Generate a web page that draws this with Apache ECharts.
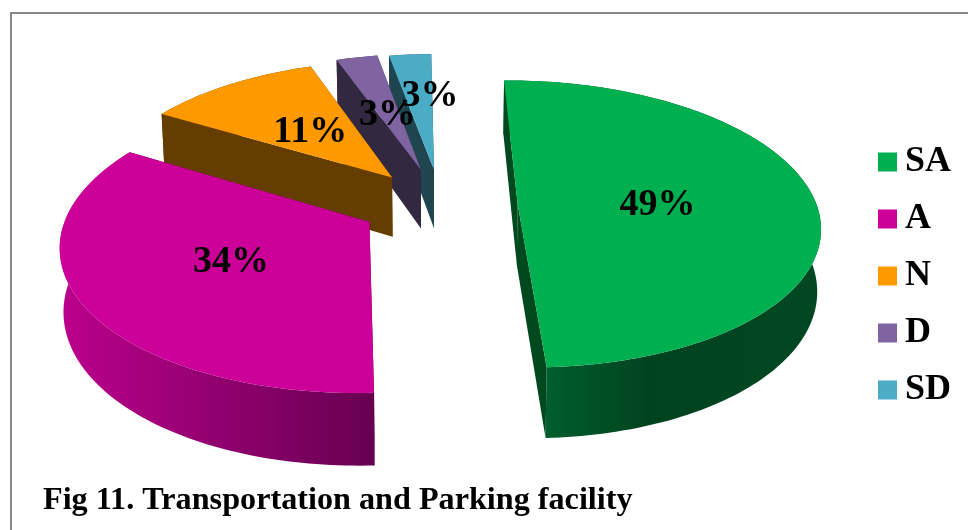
<!DOCTYPE html>
<html><head><meta charset="utf-8">
<style>html,body{margin:0;padding:0;background:#fff}#c{width:968px;height:530px}</style>
<script src="https://cdn.jsdelivr.net/npm/echarts@6/dist/echarts.min.js"></script>
</head><body><div id="c"></div>
<script>
const categories = ['SA', 'A', 'N', 'D', 'SD'];
const values = [49.49, 34.25, 11, 2.6, 2.66];
const titleText = 'Fig 11. Transportation and Parking facility';

const topColors = ['#00B050', '#CC0099', '#FF9900', '#8064A2', '#4BACC6'];
const radialWallColors = ['#00491F', '#660050', '#663D00', '#32283F', '#1E4550'];
const labelFractions = [0.45, 0.5, 0.46, 0.46, 0.6];
const labelNudges = [[6, 3], [0, 1], [-3, 0], [-2, 1], [11, -1]];
const sliceShifts = [[0, 0], [3, -3], [5, 1], [4, 0], [4.5, 1]];
const FONT = '"Liberation Serif","Times New Roman",serif';

// projection of the tilted pie plane
const X0 = 437, Y0 = 205, SX = 299, SY = 141, K = 0.14, EXPLODE = 0.27, DEPTH = 61, BOTTOM_SCALE = 0.99, ROTATION = -0.8;
function project(X, Y) {
  const w = 1 + K * Y;
  return { x: X0 + SX * X / w, y: Y0 - SY * Y / w, w };
}
const total = values.reduce((a, b) => a + b, 0);
function sliceGeometry(i) {
  const before = values.slice(0, i).reduce((a, b) => a + b, 0);
  const rot = ROTATION * Math.PI / 180;
  const a0 = rot + before / total * Math.PI * 2;
  const a1 = rot + (before + values[i]) / total * Math.PI * 2;
  const mid = (a0 + a1) / 2;
  const ox = EXPLODE * Math.sin(mid), oy = EXPLODE * Math.cos(mid);
  const arc = [];
  const n = Math.max(8, Math.round(values[i] * 3));
  for (let s = 0; s <= n; s++) {
    const a = a0 + (a1 - a0) * s / n;
    arc.push([ox + Math.sin(a), oy + Math.cos(a)]);
  }
  return { mid, ox, oy, arc };
}
function wallFill(i) {
  const G = echarts.graphic.LinearGradient;
  if (i === 0) return new G(541, 0, 821, 0, [
    { offset: 0, color: '#005F2D' }, { offset: 0.38, color: '#00441F' }, { offset: 1, color: '#004722' }], true);
  if (i === 1) return new G(58, 0, 376, 0, [
    { offset: 0, color: '#BC008D' }, { offset: 1, color: '#660050' }], true);
  return radialWallColors[i];
}
function renderSlice(i) {
  const g = sliceGeometry(i);
  const sh = sliceShifts[i];
  const topPt = (X, Y) => { const p = project(X, Y); return [p.x + sh[0], p.y + sh[1]]; };
  const botPt = (X, Y) => {
    const p = project(X, Y);
    return [X0 + (p.x - X0) * BOTTOM_SCALE + sh[0], p.y + DEPTH / p.w + sh[1]];
  };
  const apex = [g.ox, g.oy];
  const first = g.arc[0], last = g.arc[g.arc.length - 1];
  const topFace = [topPt(apex[0], apex[1])].concat(g.arc.map(p => topPt(p[0], p[1])));
  const outer = g.arc.map(p => topPt(p[0], p[1])).concat(g.arc.slice().reverse().map(p => botPt(p[0], p[1])));
  const wall = e => [topPt(apex[0], apex[1]), topPt(e[0], e[1]), botPt(e[0], e[1]), botPt(apex[0], apex[1])];
  const f = labelFractions[i];
  const lp = topPt(g.ox + f * Math.sin(g.mid), g.oy + f * Math.cos(g.mid));
  return {
    type: 'group',
    children: [
      { type: 'polygon', shape: { points: outer }, style: { fill: wallFill(i) }, z2: 1 },
      { type: 'polygon', shape: { points: wall(first) }, style: { fill: radialWallColors[i] }, z2: 2 },
      { type: 'polygon', shape: { points: wall(last) }, style: { fill: radialWallColors[i] }, z2: 2 },
      { type: 'polygon', shape: { points: topFace }, style: { fill: topColors[i] }, z2: 3 },
      { type: 'text', z2: 100, style: {
          x: lp[0] + labelNudges[i][0], y: lp[1] + labelNudges[i][1], text: Math.round(values[i]) + '%', fill: '#000',
          font: 'bold 38px ' + FONT, align: 'center', verticalAlign: 'middle' } }
    ]
  };
}
const paintOrder = [4, 3, 2, 1, 0];
const chart = echarts.init(document.getElementById('c'), null, { renderer: 'canvas' });
chart.setOption({
  animation: false,
  backgroundColor: '#fff',
  title: {
    text: titleText, left: 38, top: 480,
    textStyle: { fontFamily: FONT, fontWeight: 'bold', fontSize: 32.2, color: '#000' }
  },
  legend: {
    data: categories, orient: 'vertical', left: 873, top: 139, icon: 'rect',
    itemWidth: 19, itemHeight: 19, itemGap: 21, selectedMode: false,
    textStyle: { fontFamily: FONT, fontWeight: 'bold', fontSize: 36, color: '#000', padding: [5, 0, 0, 3] }
  },
  graphic: [{
    type: 'rect', silent: true, z: 0,
    shape: { x: 11, y: 13, width: 2000, height: 2000 },
    style: { fill: 'none', stroke: '#888888', lineWidth: 2 }
  }],
  series: paintOrder.map(i => ({
    type: 'custom', name: categories[i], coordinateSystem: 'none', silent: true,
    itemStyle: { color: topColors[i] },
    data: [[values[i]]],
    renderItem: () => renderSlice(i)
  }))
});
</script></body></html>
